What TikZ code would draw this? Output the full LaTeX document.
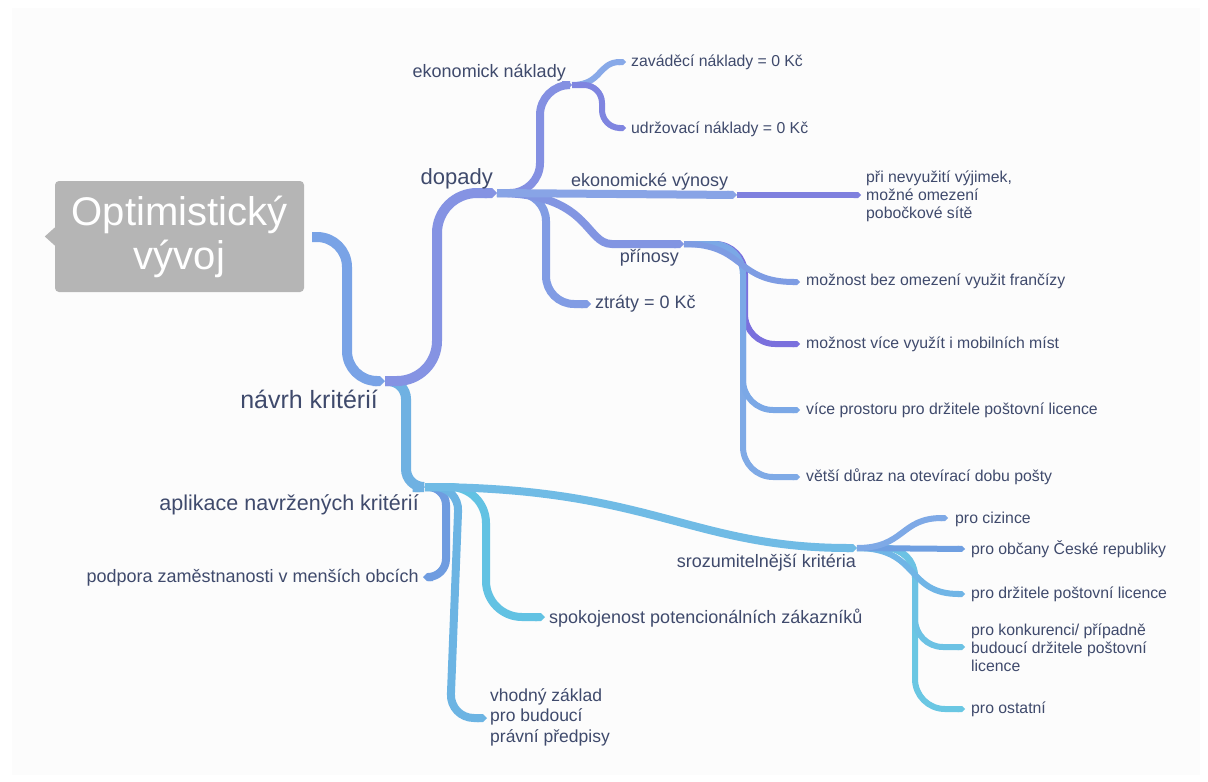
\documentclass[tikz,border=0pt]{standalone}
\usepackage{fontspec}
\setmainfont{Liberation Sans}
\usetikzlibrary{arrows.meta}
\definecolor{txt}{HTML}{3F4A6C}
\definecolor{cRoot}{HTML}{79A3E6}
\definecolor{cApl}{HTML}{6FB1E2}
\definecolor{cDop}{HTML}{8593E3}
\definecolor{cEkon}{HTML}{8490E2}
\definecolor{cZtr}{HTML}{819CE4}
\definecolor{cPrin}{HTML}{8295E2}
\definecolor{cVyn}{HTML}{88A4E6}
\definecolor{cPri}{HTML}{7F80DE}
\definecolor{cZav}{HTML}{88A9E8}
\definecolor{cUdr}{HTML}{7F85E0}
\definecolor{cDur}{HTML}{7FAAE6}
\definecolor{cPros}{HTML}{7BA8E6}
\definecolor{cMob}{HTML}{7A70DD}
\definecolor{cFra}{HTML}{7E9CE3}
\definecolor{cPod}{HTML}{6F9CE0}
\definecolor{cVho}{HTML}{6CB4E3}
\definecolor{cSpo}{HTML}{62C2E3}
\definecolor{cSro}{HTML}{70BBE5}
\definecolor{cOst}{HTML}{6AC7E3}
\definecolor{cKon}{HTML}{6CC2E4}
\definecolor{cDrz}{HTML}{70B5E6}
\definecolor{cObc}{HTML}{6F9FE1}
\definecolor{cCiz}{HTML}{7EA9E6}
\definecolor{cBox}{HTML}{B5B5B5}
\tikzset{
  lvA/.style={line width=10pt, -{Triangle Cap}, rounded corners=#1},
  lvA/.default=30pt,
  lvB/.style={line width=8pt, -{Triangle Cap}, rounded corners=#1},
  lvB/.default=28pt,
  lvC/.style={line width=6pt, -{Triangle Cap}, rounded corners=#1},
  lvC/.default=24pt,
  lab/.style={inner sep=0pt, text=txt, font=\fontsize{15.8}{18}\selectfont, align=left},
  labB/.style={inner sep=0pt, text=txt, font=\fontsize{18}{21}\selectfont, align=left},
  labA/.style={inner sep=0pt, text=txt, font=\fontsize{22}{26}\selectfont},
}
\begin{document}
\begin{tikzpicture}[x=1pt,y=-1pt]
\useasboundingbox (0,0) rectangle (1208,782);
\fill[white] (0,0) rectangle (1208,782);
\fill[black!1] (12,8) rectangle (1200,775);

% junction coordinates
\coordinate (root) at (312,237);
\coordinate (navrh) at (385,381);
\coordinate (dopady) at (497,193);
\coordinate (aplik) at (425,487);
\coordinate (ekonak) at (572,85);
\coordinate (zavad) at (626,62);
\coordinate (udrz) at (626,128);
\coordinate (vynos) at (737,195);
\coordinate (pri) at (861,195);
\coordinate (prinos) at (684,244);
\coordinate (ztraty) at (591,304);
\coordinate (franc) at (800,282);
\coordinate (mobil) at (800,344);
\coordinate (prostor) at (800,410);
\coordinate (duraz) at (800,477);
\coordinate (podpora) at (423,577);
\coordinate (vhodny) at (487,718);
\coordinate (spokoj) at (545,617);
\coordinate (srozum) at (857,548);
\coordinate (cizince) at (948,518);
\coordinate (obcany) at (965,549);
\coordinate (drzitele) at (965,594);
\coordinate (konk) at (965,647);
\coordinate (ostatni) at (965,709);

% connectors
\draw[lvA=30pt, draw=cRoot] (root) -- (347,237) -- (347,381) -- (navrh);
\draw[lvA=18pt, draw=cApl] (navrh) -- (406,381) -- (406,487) -- (aplik);
\draw[lvA=40pt, draw=cDop] (navrh) -- (437,381) -- (437,193) -- (dopady);

\draw[lvB=30pt, draw=cEkon] (dopady) -- (540,193) -- (540,85) -- (ekonak);
\draw[lvB, draw=cZtr] (dopady) -- (546,193) -- (546,304) -- (ztraty);
\draw[lvB, draw=cPrin] (dopady) .. controls (590,193) and (585,244) .. (640,244) -- (prinos);
\draw[lvB, draw=cVyn] (dopady) -- (vynos);
\draw[lvC, draw=cPri] (vynos) -- (pri);

\draw[lvC, draw=cZav] (ekonak) .. controls (602,85) and (598,62) .. (zavad);
\draw[lvC=18pt, draw=cUdr] (ekonak) -- (602,85) -- (602,128) -- (udrz);

\draw[lvC=30pt, draw=cMob] (prinos) -- (745,244) -- (745,344) -- (mobil);
\draw[lvC=30pt, draw=cDur] (prinos) -- (743,244) -- (743,477) -- (duraz);
\draw[lvC=30pt, draw=cPros] (prinos) -- (743,244) -- (743,410) -- (prostor);
\draw[lvC, draw=cFra] (prinos) .. controls (745,244) and (735,282) .. (franc);

\draw[lvB=18pt, draw=cPod] (aplik) -- (446,487) -- (446,577) -- (podpora);
\draw[lvB=24pt, draw=cVho] (aplik) -- (459,487) -- (450,718) -- (vhodny);
\draw[lvB=36pt, draw=cSpo] (aplik) -- (486,487) -- (486,617) -- (spokoj);
\draw[lvB, draw=cSro] (aplik) .. controls (650,487) and (690,548) .. (srozum);

\draw[lvC=30pt, draw=cOst] (srozum) -- (915,548) -- (915,709) -- (ostatni);
\draw[lvC=28pt, draw=cKon] (srozum) -- (915,548) -- (915,647) -- (konk);
\draw[lvC, draw=cDrz] (srozum) .. controls (920,548) and (905,594) .. (drzitele);
\draw[lvC, draw=cObc] (srozum) -- (obcany);
\draw[lvC, draw=cCiz] (srozum) .. controls (905,548) and (900,518) .. (cizince);

% root box
\node[fill=cBox, rounded corners=4pt, minimum width=249pt, minimum height=111pt,
      text=white, align=center, inner sep=0pt,
      font=\fontsize{40}{44}\selectfont] (rootbox) at (179.5,236.5) {Optimistický\\vývoj};
\fill[cBox] (rootbox.west) ++(0,-9) -- ++(-10,9) -- ++(10,9) -- cycle;

% labels
\node[labA, anchor=east, font=\fontsize{25}{29}\selectfont] (tnavrh) at (378,399) {návrh kritérií};
\node[labA, anchor=east] (tdopady) at (493,179) {dopady};
\node[labA, anchor=east, font=\fontsize{21.5}{26}\selectfont] (taplik) at (419,505) {aplikace navržených kritérií};

\node[labB, anchor=east] (tekonak) at (566,73) {ekonomick náklady};
\node[labB, anchor=west] (tvynos) at (571,182) {ekonomické výnosy};
\node[labB, anchor=east] (tprinos) at (679,258) {přínosy};
\node[labB, anchor=west] (tztraty) at (595,304) {ztráty = 0 Kč};
\node[labB, anchor=east] (tpodpora) at (419,578) {podpora zaměstnanosti v menších obcích};
\node[labB, anchor=west, font=\fontsize{17.5}{20.5}\selectfont] (tvhodny) at (490,717) {vhodný základ\\pro budoucí\\právní předpisy};
\node[labB, anchor=west] (tspokoj) at (549,618) {spokojenost potencionálních zákazníků};
\node[labB, anchor=east] (tsrozum) at (856,563) {srozumitelnější kritéria};

\node[lab, anchor=west] (tzavad) at (631,62) {zaváděcí náklady = 0 Kč};
\node[lab, anchor=west] (tudrz) at (631,129) {udržovací náklady = 0 Kč};
\node[lab, anchor=west] (tpri) at (866,196) {při nevyužití výjimek,\\možné omezení\\pobočkové sítě};
\node[lab, anchor=west] (tfranc) at (806,281) {možnost bez omezení využit frančízy};
\node[lab, anchor=west] (tmobil) at (806,344) {možnost více využít i mobilních míst};
\node[lab, anchor=west] (tprostor) at (806,410) {více prostoru pro držitele poštovní licence};
\node[lab, anchor=west] (tduraz) at (806,477) {větší důraz na otevírací dobu pošty};
\node[lab, anchor=west] (tcizince) at (955,519) {pro cizince};
\node[lab, anchor=west] (tobcany) at (971,549) {pro občany České republiky};
\node[lab, anchor=west] (tdrzitele) at (971,594) {pro držitele poštovní licence};
\node[lab, anchor=west] (tkonk) at (971,648) {pro konkurenci/ případně\\budoucí držitele poštovní\\licence};
\node[lab, anchor=west] (tostatni) at (971,709) {pro ostatní};
\end{tikzpicture}
\end{document}
